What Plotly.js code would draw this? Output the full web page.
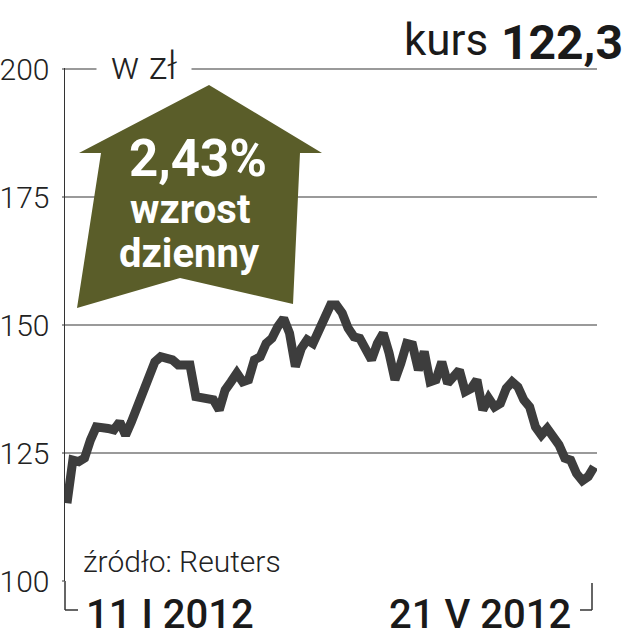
<!DOCTYPE html>
<html>
<head>
<meta charset="utf-8">
<script src="https://cdn.plot.ly/plotly-3.0.1.min.js"></script>
<style>html,body{margin:0;padding:0;background:#fff;}</style>
</head>
<body>
<div id="chart" style="width:629px;height:640px;"></div>
<script>
// Trading-day index (0 = 11 I 2012, 90 = 21 V 2012) and closing price in zł
const days = [0,1,2,3,4,5,7,8,9,10,11,12,13,15,16,18,19,21,22,23,25,26,27,28,29,30,31,32,33,34,35,36,37,38,39,40,41,42,43,44,45,46,47,48,49,50,52,53,54,55,56,57,58,59,60,61,62,63,64,65,67,68,69,70,71,72,73,74,75,76,77,78,79,80,81,82,83,84,85,86,87,88,89,90];
const prices = [115.2,123.6,123.3,124.0,127.5,130.1,129.8,129.5,131.1,128.5,131.1,134.0,136.3,142.8,143.8,143.2,142.2,142.2,136.0,135.7,135.4,133.4,137.3,138.9,140.6,138.9,139.3,143.2,143.8,146.4,147.4,149.7,151.3,148.4,141.9,145.4,147.1,146.4,149.0,152.2,153.9,153.9,152.3,149.4,147.7,147.4,143.2,146.4,148.4,144.5,139.3,142.5,146.4,146.1,141.2,144.8,138.9,139.3,142.8,138.6,141.2,137.0,137.6,139.3,133.4,135.7,134.0,134.7,137.6,138.9,137.9,135.4,134.0,130.1,128.5,129.8,128.5,126.6,124.0,123.6,121.0,119.6,120.4,122.3];
const yTicks = [100,125,150,175,200];
const yTickLabels = ["100","125","150","175","200"];
const dateLabels = ["11 I 2012","21 V 2012"];
const unitLabel = "w zł";
const lastPrice = "122,3";
const changeLabel = ["2,43%","wzrost","dzienny"];
const sourceLabel = "źródło: Reuters";

const olive = "#5a5d29";
const font = "Roboto, 'Liberation Sans', sans-serif";

// plot area geometry helpers (paper coords); 200 sits at y=69, 100 at y=581
const L = 65, R = 597, T = 69, B = 581;
const yMax = 200.2;
const unitPx = (B - T) / 100;
const topPx = T - (yMax - 200) * unitPx;
const px = x => (x - L) / (R - L);
const py = y => (B - y) / (B - topPx);

const arrowPts = [[209,85],[322,153],[300,153],[293,304],[180,278],[77,308],[101,153],[79,153]];
const arrowPath = "M" + arrowPts.map(p => px(p[0]).toFixed(4) + "," + py(p[1]).toFixed(4)).join(" L") + " Z";

const trace = {
  x: days, y: prices, type: "scatter", mode: "lines",
  line: {color: "#3d3d3d", width: 9},
  hoverinfo: "skip"
};

const layout = {
  width: 629, height: 640,
  margin: {l: L, r: 629 - R, t: topPx, b: 640 - B},
  paper_bgcolor: "#fff", plot_bgcolor: "#fff",
  showlegend: false,
  xaxis: {range: [-0.34, 90.5], showgrid: false, zeroline: false, showticklabels: false, showline: false, ticks: ""},
  yaxis: {
    range: [100, yMax], tickvals: yTicks, ticktext: yTickLabels,
    showgrid: true, gridcolor: "#9a9a9a", gridwidth: 1.3,
    zeroline: false, showline: true, linecolor: "#333", linewidth: 1.5,
    ticks: "outside", ticklen: 2, tickcolor: "#9a9a9a", tickwidth: 1.3,
    tickfont: {family: font, size: 30, color: "#222", weight: 300},
    ticklabelstandoff: 6
  },
  shapes: [
    {type: "path", xref: "paper", yref: "paper", path: arrowPath, fillcolor: olive, line: {width: 0}, layer: "above"},
    // bracket under axis (left)
    {type: "line", xref: "paper", yref: "paper", x0: 0, x1: 0, y0: 0, y1: py(610), line: {color: "#333", width: 1.5}},
    {type: "line", xref: "paper", yref: "paper", x0: 0, x1: px(78), y0: py(610), y1: py(610), line: {color: "#333", width: 1.5}},
    // bracket (right)
    {type: "line", xref: "paper", yref: "paper", x0: px(592), x1: px(592), y0: py(583), y1: py(610), line: {color: "#333", width: 1.5}},
    {type: "line", xref: "paper", yref: "paper", x0: px(580), x1: px(592), y0: py(610), y1: py(610), line: {color: "#333", width: 1.5}}
  ],
  annotations: [
    {text: unitLabel, xref: "paper", yref: "paper", x: px(144), y: py(66), xanchor: "center", yanchor: "middle",
     showarrow: false, bgcolor: "#fff", width: 92, font: {family: font, size: 38, color: "#222", weight: 300}},
    {text: "kurs", xref: "paper", yref: "paper", x: px(490), y: py(40), xanchor: "right", yanchor: "middle",
     showarrow: false, font: {family: font, size: 44, color: "#1a1a1a"}},
    {text: "<b>" + lastPrice + "</b>", xref: "paper", yref: "paper", x: px(625), y: py(42), xanchor: "right", yanchor: "middle",
     showarrow: false, font: {family: font, size: 48, color: "#1a1a1a"}},
    {text: "<b>" + changeLabel[0] + "</b>", xref: "paper", yref: "paper", x: px(198), y: py(158), xanchor: "center", yanchor: "middle",
     showarrow: false, borderpad: 0, font: {family: font, size: 51, color: "#fff"}},
    {text: "<b>" + changeLabel[1] + "</b>", xref: "paper", yref: "paper", x: px(190), y: py(209), xanchor: "center", yanchor: "middle",
     showarrow: false, borderpad: 0, font: {family: font, size: 40, color: "#fff"}},
    {text: "<b>" + changeLabel[2] + "</b>", xref: "paper", yref: "paper", x: px(189), y: py(253), xanchor: "center", yanchor: "middle",
     showarrow: false, borderpad: 0, font: {family: font, size: 40, color: "#fff"}},
    {text: sourceLabel, xref: "paper", yref: "paper", x: px(81), y: py(561), xanchor: "left", yanchor: "middle",
     showarrow: false, font: {family: font, size: 30, color: "#222", weight: 300}},
    {text: dateLabels[0], xref: "paper", yref: "paper", x: px(170), y: py(615), xanchor: "center", yanchor: "middle",
     showarrow: false, font: {family: font, size: 40, color: "#1a1a1a", weight: 500}},
    {text: dateLabels[1], xref: "paper", yref: "paper", x: px(480), y: py(615), xanchor: "center", yanchor: "middle",
     showarrow: false, font: {family: font, size: 40, color: "#1a1a1a", weight: 500}}
  ]
};

Plotly.newPlot("chart", [trace], layout, {staticPlot: true, displayModeBar: false});
</script>
</body>
</html>
